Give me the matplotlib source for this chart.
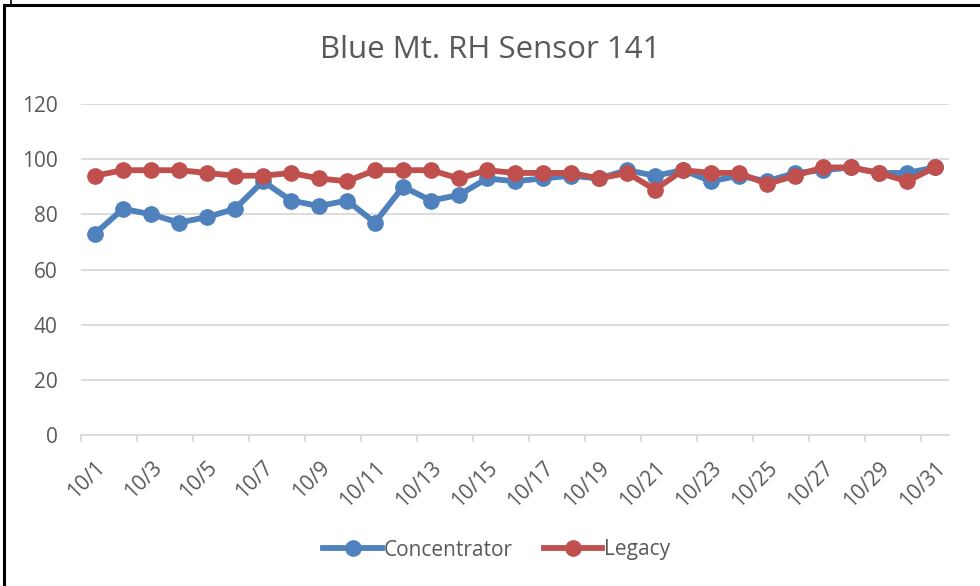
import matplotlib
matplotlib.use("Agg")
import matplotlib.pyplot as plt
from matplotlib.lines import Line2D

days = [f"10/{d}" for d in range(1, 32)]
concentrator = [73, 82, 80, 77, 79, 82, 92, 85, 83, 85, 77, 90, 85, 87, 93, 92, 93, 94, 93, 96,
                94, 96, 92, 94, 92, 95, 96, 97, 95, 95, 97]
legacy = [94, 96, 96, 96, 95, 94, 94, 95, 93, 92, 96, 96, 96, 93, 96, 95, 95, 95, 93, 95,
          89, 96, 95, 95, 91, 94, 97, 97, 95, 92, 97]
yticks = [0, 20, 40, 60, 80, 100, 120]
title = "Blue Mt. RH Sensor 141"

BLUE = "#4F81BD"
RED = "#C0504D"
GRID = "#D9D9D9"
TXT = "#595959"
FONT = "Open Sans"

W, H = 980, 586
fig = plt.figure(figsize=(W / 100, H / 100), dpi=100)
fig.patch.set_facecolor("white")

# outer frame lines
fig.add_artist(Line2D([4 / W, 1], [1 - 5 / H, 1 - 5 / H], color="black", lw=2.2))
fig.add_artist(Line2D([4 / W, 4 / W], [0, 1 - 5 / H], color="black", lw=2.2))
fig.add_artist(Line2D([11 / W, 11 / W], [1 - 5 / H, 1], color="black", lw=1.2))

left, right, top, bottom = 81, 949, 104, 435
ax = fig.add_axes([left / W, 1 - bottom / H, (right - left) / W, (bottom - top) / H])
x = list(range(len(days)))
ax.plot(x, concentrator, color=BLUE, lw=4.2, marker="o", ms=11, label="Concentrator", zorder=3,
        solid_capstyle="round")
ax.plot(x, legacy, color=RED, lw=4.2, marker="o", ms=11, label="Legacy", zorder=4,
        solid_capstyle="round")

ax.set_xlim(-0.5, len(days) - 0.5)
ax.set_ylim(0, 120)
ax.set_yticks(yticks)
ax.set_yticklabels([str(v) for v in yticks], fontsize=15, color=TXT, family=FONT)
ax.tick_params(axis="y", length=0, pad=17)
ax.grid(axis="y", color=GRID, lw=1.3)
ax.set_axisbelow(True)
for s in ["top", "right", "left"]:
    ax.spines[s].set_visible(False)
ax.spines["bottom"].set_color(GRID)
ax.spines["bottom"].set_linewidth(1.3)

# category boundary ticks every 2 categories
ax.set_xticks([i - 0.5 for i in range(0, len(days) + 1, 2)], minor=False)
ax.set_xticklabels([])
ax.tick_params(axis="x", which="major", length=5, color=GRID, width=1.3)
ax.set_xticks(x[::2], minor=True)
ax.set_xticklabels(days[::2], minor=True, rotation=45, ha="right", va="top",
                   rotation_mode="anchor", fontsize=15, color=TXT, family=FONT)
ax.tick_params(axis="x", which="minor", length=0, pad=16)

fig.text(0.5, 1 - 50 / H, title, ha="center", va="center", fontsize=22.5, color=TXT, family=FONT)

handles = [Line2D([], [], color=BLUE, lw=4.2, marker="o", ms=11),
           Line2D([], [], color=RED, lw=4.2, marker="o", ms=11)]
fig.legend(handles, ["Concentrator", "Legacy"], loc="center", bbox_to_anchor=(497 / W, 1 - 550 / H),
           ncol=2, frameon=False, prop={"family": FONT, "size": 15}, labelcolor=TXT,
           handlelength=2.8, handletextpad=0.1, columnspacing=1.5)

fig.savefig("out.png", dpi=100, facecolor="white")
